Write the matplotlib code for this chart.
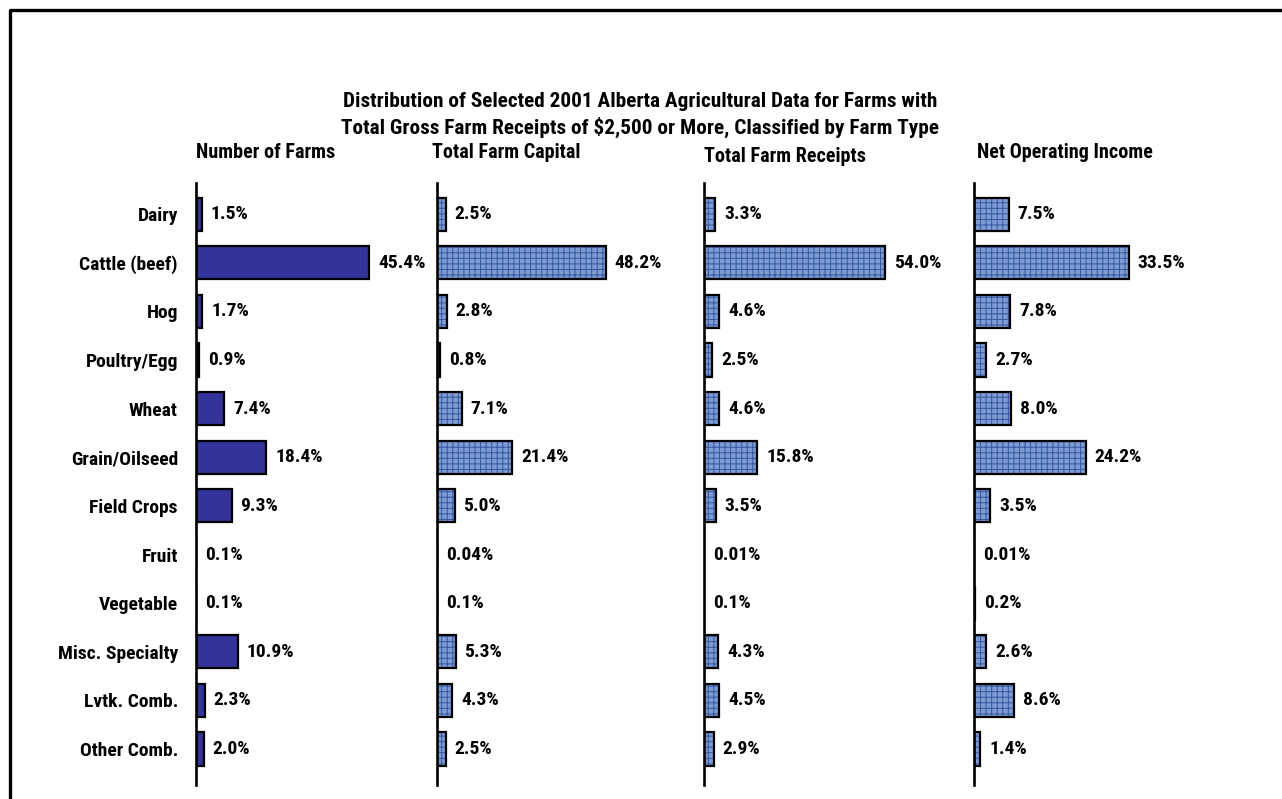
import matplotlib.pyplot as plt
from matplotlib.lines import Line2D

plt.rcParams['font.family'] = ['Roboto Condensed', 'Liberation Sans Narrow', 'Liberation Sans', 'DejaVu Sans']
plt.rcParams['font.weight'] = 'bold'
plt.rcParams['hatch.linewidth'] = 0.7

# data (percent of Alberta total)
categories = ["Dairy", "Cattle (beef)", "Hog", "Poultry/Egg", "Wheat", "Grain/Oilseed",
              "Field Crops", "Fruit", "Vegetable", "Misc. Specialty", "Lvtk. Comb.", "Other Comb."]
farms = [1.5, 45.4, 1.7, 0.9, 7.4, 18.4, 9.3, 0.1, 0.1, 10.9, 2.3, 2.0]
capital = [2.5, 48.2, 2.8, 0.8, 7.1, 21.4, 5.0, 0.04, 0.1, 5.3, 4.3, 2.5]
receipts = [3.3, 54.0, 4.6, 2.5, 4.6, 15.8, 3.5, 0.01, 0.1, 4.3, 4.5, 2.9]
income = [7.5, 33.5, 7.8, 2.7, 8.0, 24.2, 3.5, 0.01, 0.2, 2.6, 8.6, 1.4]
panel_titles = ["Number of Farms", "Total Farm Capital", "Total Farm Receipts", "Net Operating Income"]

title = ("Distribution of Selected 2001 Alberta Agricultural Data for Farms with\n"
         "Total Gross Farm Receipts of $2,500 or More, Classified by Farm Type")

W, H = 1282, 799
fig = plt.figure(figsize=(W / 100, H / 100), dpi=100)
fig.patch.set_facecolor('white')

# layout in pixels: axis x, pixels per percent, panel title x / y
lefts = [196, 437, 704, 974]
scales = [3.82, 3.50, 3.36, 4.62]
title_x = [196, 432, 704, 977]
title_y = [153, 153, 156, 153]
ax_w = 250
top, bottom = 183, 785

def fmt(v):
    return f"{v:.2f}%" if v < 0.05 else f"{v:.1f}%"

series = [farms, capital, receipts, income]
ypos = list(range(len(categories)))

for k, vals in enumerate(series):
    ax = fig.add_axes([lefts[k] / W, 1 - bottom / H, ax_w / W, (bottom - top) / H])
    ax.set_xlim(0, ax_w / scales[k])
    ax.set_ylim(11.74, -0.64)
    if k == 0:
        ax.barh(ypos, vals, height=0.68, color='#333399', edgecolor='black', linewidth=1.6)
    else:
        ax.barh(ypos, vals, height=0.68, color='#7f9bd3', edgecolor='#34579f',
                hatch='+++', linewidth=0)
        ax.barh(ypos, vals, height=0.68, color='none', edgecolor='black', linewidth=1.6)
    for i, v in enumerate(vals):
        ax.annotate(fmt(v), (v, i), xytext=(9, 0), textcoords='offset pixels',
                    va='center', ha='left', fontsize=14, fontweight='bold')
    for s in ['top', 'right', 'bottom']:
        ax.spines[s].set_visible(False)
    ax.spines['left'].set_linewidth(1.9)
    ax.set_xticks([])
    if k == 0:
        ax.set_yticks(ypos, categories)
        ax.tick_params(axis='y', length=0, pad=13, labelsize=14)
    else:
        ax.set_yticks([])
    ax.patch.set_alpha(0)
    fig.text(title_x[k] / W, 1 - title_y[k] / H, panel_titles[k], ha='left', va='center',
             fontsize=14.5, fontweight='bold')

fig.text(640 / W, 1 - 115 / H, title, ha='center', va='center', fontsize=15.3,
         fontweight='bold', linespacing=1.3)

# frame on left and top
fig.add_artist(Line2D([10 / W, 10 / W, 1], [0, 1 - 10 / H, 1 - 10 / H],
                      color='black', linewidth=2.4, transform=fig.transFigure))

fig.savefig('out.png', dpi=100)
